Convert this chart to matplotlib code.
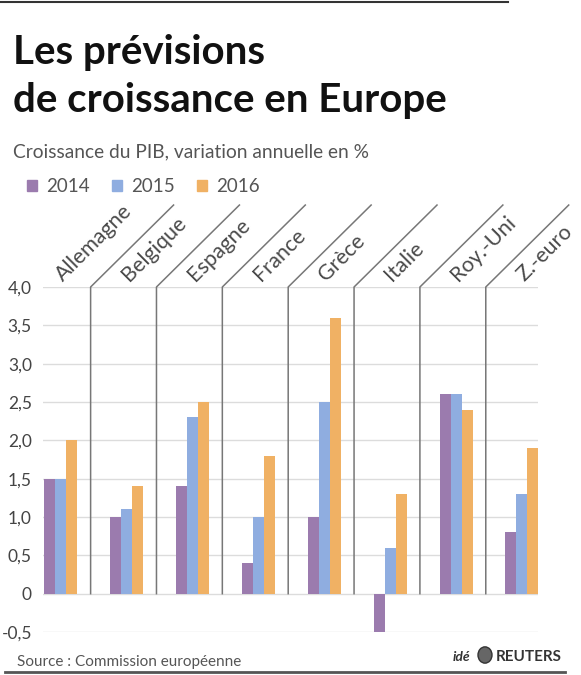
import numpy as np
import matplotlib
matplotlib.use("Agg")
import matplotlib.pyplot as plt
from matplotlib.lines import Line2D
from matplotlib.patches import Patch, Circle

# donnees
pays = ["Allemagne", "Belgique", "Espagne", "France", "Grèce", "Italie", "Roy.-Uni", "Z.-euro"]
annees = ["2014", "2015", "2016"]
v2014 = [1.5, 1.0, 1.4, 0.4, 1.0, -0.5, 2.6, 0.8]
v2015 = [1.5, 1.1, 2.3, 1.0, 2.5, 0.6, 2.6, 1.3]
v2016 = [2.0, 1.4, 2.5, 1.8, 3.6, 1.3, 2.4, 1.9]
yticks = [-0.5, 0, 0.5, 1.0, 1.5, 2.0, 2.5, 3.0, 3.5, 4.0]
ylabels = ["-0,5", "0", "0,5", "1,0", "1,5", "2,0", "2,5", "3,0", "3,5", "4,0"]

couleurs = ["#9b7bae", "#8fade0", "#f0b164"]
gris = "#555555"
plt.rcParams['font.family'] = ['Lato', 'DejaVu Sans']

W, H = 581, 675
fig = plt.figure(figsize=(W / 100, H / 100), dpi=100)

# zone du graphique (pixels -> fraction)
ax = fig.add_axes([43 / W, 1 - 632 / H, 495 / W, 345 / H])
ax.set_xlim(-0.273, 7.243)
ax.set_ylim(-0.5, 4.0)

x = np.arange(len(pays))
bw = 0.167
for k, vals in enumerate([v2014, v2015, v2016]):
    ax.bar(x + (k - 1) * bw, vals, width=bw, color=couleurs[k], label=annees[k], zorder=3)

ax.set_yticks(yticks)
ax.set_yticklabels(ylabels)
ax.tick_params(axis='y', length=0, pad=8, labelsize=12.5, labelcolor="#444444")
ax.tick_params(axis='x', length=0, labelbottom=False)
ax.grid(axis='y', color="#dcdcdc", lw=1, zorder=0)
for s in ax.spines.values():
    s.set_visible(False)

# separateurs et etiquettes inclinees
dx = 83 / 65.9
dy = 82 / 76.7
for i in range(len(pays) - 1):
    xs = i + 0.45
    ax.plot([xs, xs, xs + dx], [0, 4.0, 4.0 + dy], color="#777777", lw=1.1,
            clip_on=False, zorder=4)
for i, p in enumerate(pays):
    ax.text(i + 0.03, 4.06, p, rotation=45, rotation_mode='anchor', ha='left', va='baseline',
            fontsize=15.5, color="#4a4a4a")

# titre
fig.text(13 / W, 1 - 64 / H, "Les prévisions", fontsize=29, fontweight='bold', color="#111111")
fig.text(13 / W, 1 - 112 / H, "de croissance en Europe", fontsize=29, fontweight='bold', color="#111111")
fig.text(13 / W, 1 - 157 / H, "Croissance du PIB, variation annuelle en %", fontsize=13.8,
         color=gris)

handles = [Patch(color=c) for c in couleurs]
fig.legend(handles, annees, loc='upper left', bbox_to_anchor=(27 / W, 1 - 178 / H), ncol=3,
           frameon=False, fontsize=13.5, handlelength=0.55, handleheight=0.55, handletextpad=0.45,
           columnspacing=1.2, borderpad=0, borderaxespad=0, labelcolor=gris)

fig.text(17 / W, 1 - 666 / H, "Source : Commission européenne", fontsize=11, color=gris)
fig.text(453 / W, 1 - 661 / H, "idé", fontsize=10, fontweight='bold', style='italic', color="#333333")
fig.patches.append(Circle((485 / W, 1 - 655 / H), 7 / W, transform=fig.transFigure,
                          facecolor="#666666", edgecolor="#333333"))
fig.text(496 / W, 1 - 661 / H, "REUTERS", fontsize=11, fontweight='bold', color="#333333")

fig.add_artist(Line2D([0, 508 / W], [1 - 2 / H, 1 - 2 / H], color="#333333", lw=1.5))
fig.add_artist(Line2D([5 / W, 565 / W], [1 - 672 / H, 1 - 672 / H], color="#555555", lw=2))

fig.savefig("out.png", dpi=100)
